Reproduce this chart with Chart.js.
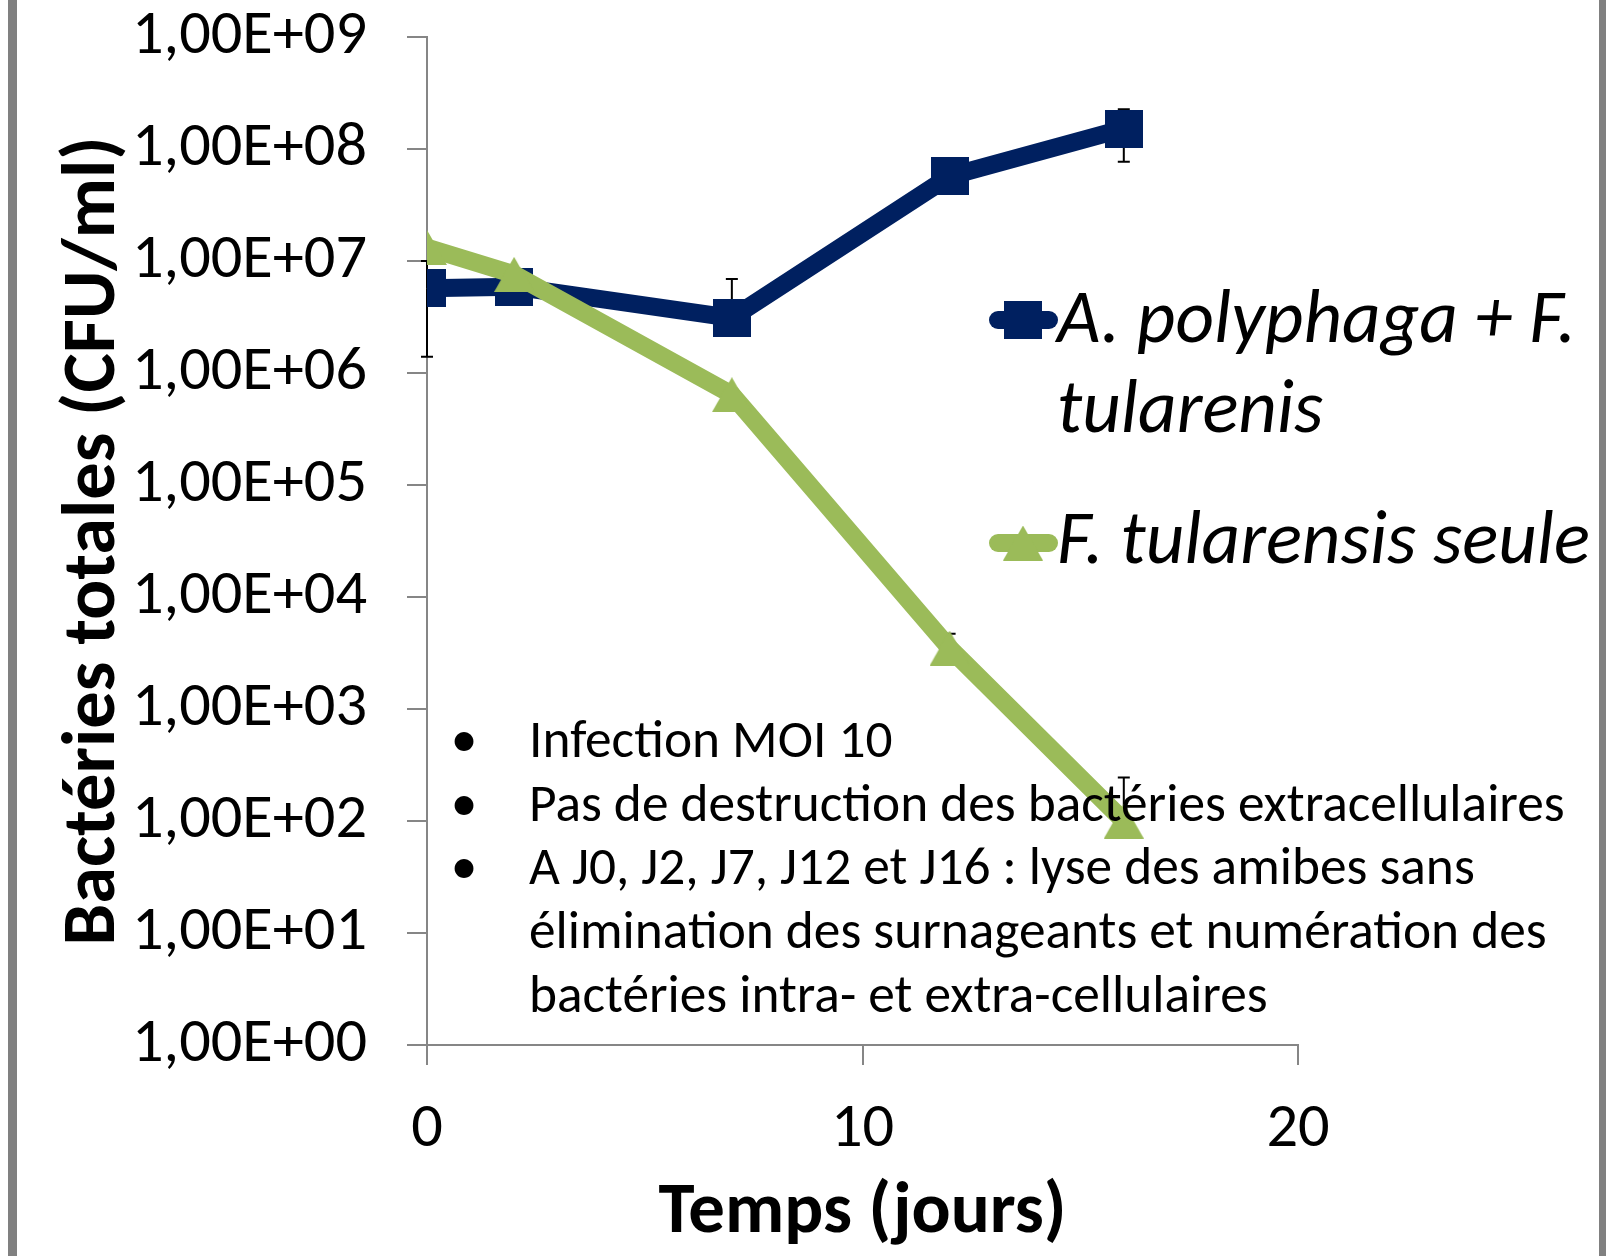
<!DOCTYPE html>
<html>
<head>
<meta charset="utf-8">
<script src="https://cdn.jsdelivr.net/npm/chart.js@4.4.1/dist/chart.umd.min.js"></script>
<style>
html,body{margin:0;padding:0;background:#fff;overflow:hidden}
#wrap{width:1606px;height:1256px;position:relative}
canvas{display:block}
</style>
</head>
<body>
<div id="wrap"><canvas id="c" width="1606" height="1256"></canvas></div>
<script>
// ---------- data ----------
const days = [0, 2, 7, 12, 16];
const seriesNames = ["A. polyphaga + F. tularenis", "F. tularensis seule"];
const legendLines = [["A. polyphaga + F.", "tularenis"], ["F. tularensis seule"]];
const amoebaCFU = [5.7e6, 5.9e6, 3.1e6, 5.7e7, 1.52e8];
const amoebaErrPlus = [4.3e6, 0, 3.8e6, 0, 7.5e7];
const amoebaErrMinus = [4.3e6, 0, 3.8e6, 0, 7.5e7];
const aloneCFU = [1.32e7, 7.6e6, 6.4e5, 3.5e3, 1.0e2];
const aloneErrPlus = [0, 0, 0, 1.2e3, 1.44e2];
const aloneErrMinus = [0, 0, 0, 1.0e3, 1.44e2];
const yTickValues = [1, 10, 100, 1e3, 1e4, 1e5, 1e6, 1e7, 1e8, 1e9];
const yTickLabels = ["1,00E+00", "1,00E+01", "1,00E+02", "1,00E+03", "1,00E+04",
                     "1,00E+05", "1,00E+06", "1,00E+07", "1,00E+08", "1,00E+09"];
const xTickValues = [0, 10, 20];
const xTickLabels = ["0", "10", "20"];
const xTitle = "Temps (jours)";
const yTitle = "Bactéries totales (CFU/ml)";
const notes = [
  {bullet: true,  text: "Infection MOI 10"},
  {bullet: true,  text: "Pas de destruction des bactéries extracellulaires"},
  {bullet: true,  text: "A J0, J2, J7, J12 et J16 : lyse des amibes sans"},
  {bullet: false, text: "élimination des surnageants et numération des"},
  {bullet: false, text: "bactéries intra- et extra-cellulaires"}
];

// ---------- style ----------
const FAMILY = 'Carlito, Lato, "Open Sans", sans-serif';
const NAVY = '#002060';
const GREEN = '#9BBB59';
const AXIS = '#868686';

const mctx = document.createElement('canvas').getContext('2d');
function fit(text, spec, target) {
  mctx.font = spec + ' 100px ' + FAMILY;
  return 100 * target / mctx.measureText(text).width;
}
const tickSize = fit('1,00E+09', 'normal 400', 235);
const xTitleSize = fit(xTitle, 'normal 700', 408);
const yTitleSize = fit(yTitle, 'normal 700', 809);
const legendSize = fit(legendLines[1][0], 'italic 400', 533);
const noteSize = fit(notes[1].text, 'normal 400', 1036);

function triangleImage(color, w, h) {
  const c = document.createElement('canvas');
  c.width = w; c.height = h;
  const g = c.getContext('2d');
  g.fillStyle = color;
  g.beginPath(); g.moveTo(w / 2, 0); g.lineTo(w, h); g.lineTo(0, h); g.closePath(); g.fill();
  return c;
}
function squareImage(color, s) {
  const c = document.createElement('canvas');
  c.width = s; c.height = s;
  const g = c.getContext('2d');
  g.fillStyle = color; g.fillRect(0, 0, s, s);
  return c;
}
const squareMark = squareImage(NAVY, 38);
const triMark = triangleImage(GREEN, 40, 35);

const bgPlugin = {
  id: 'bg',
  beforeDraw(chart) {
    const g = chart.ctx;
    g.save();
    g.fillStyle = '#fff'; g.fillRect(0, 0, chart.width, chart.height);
    g.fillStyle = '#808080';
    g.fillRect(8, 0, 9, chart.height);
    g.fillRect(1599, 0, 7, chart.height);
    g.restore();
  }
};

const errPlugin = {
  id: 'errbars',
  beforeDatasetsDraw(chart) {
    const g = chart.ctx, xs = chart.scales.x, ys = chart.scales.y;
    g.save();
    g.strokeStyle = '#000'; g.lineWidth = 2;
    chart.data.datasets.forEach(ds => {
      ds.data.forEach((p, i) => {
        const px = xs.getPixelForValue(p.x);
        const py = ys.getPixelForValue(p.y);
        const ends = [];
        if (ds.errPlus[i] > 0) ends.push(p.y + ds.errPlus[i]);
        if (ds.errMinus[i] > 0 && p.y - ds.errMinus[i] > 0) ends.push(p.y - ds.errMinus[i]);
        ends.forEach(v => {
          const ey = ys.getPixelForValue(v);
          g.beginPath(); g.moveTo(px, py); g.lineTo(px, ey);
          g.moveTo(px - 6, ey); g.lineTo(px + 6, ey); g.stroke();
        });
      });
    });
    g.restore();
  }
};

const overlayPlugin = {
  id: 'overlay',
  afterDraw(chart) {
    const g = chart.ctx;
    g.save();
    // legend
    const entries = [
      {color: NAVY, mark: squareMark, lines: legendLines[0], cy: 320, base: 342},
      {color: GREEN, mark: triMark, lines: legendLines[1], cy: 543, base: 563}
    ];
    entries.forEach(e => {
      g.strokeStyle = e.color; g.lineWidth = 18; g.lineCap = 'round';
      g.beginPath(); g.moveTo(998, e.cy); g.lineTo(1049, e.cy); g.stroke();
      g.drawImage(e.mark, 1023 - e.mark.width / 2, e.cy - e.mark.height / 2);
      g.fillStyle = '#000';
      g.font = 'italic 400 ' + legendSize + 'px ' + FAMILY;
      g.textAlign = 'left'; g.textBaseline = 'alphabetic';
      e.lines.forEach((t, k) => g.fillText(t, 1057, e.base + k * 90));
    });
    // notes
    g.font = 'normal 400 ' + noteSize + 'px ' + FAMILY;
    g.fillStyle = '#000';
    notes.forEach((n, k) => {
      const by = 757 + k * 63.7;
      if (n.bullet) { g.textAlign = 'center'; g.fillText('•', 464, by); }
      g.textAlign = 'left';
      g.fillText(n.text, 529, by);
    });
    g.restore();
  }
};

new Chart(document.getElementById('c'), {
  type: 'line',
  data: {
    datasets: [
      {
        label: seriesNames[0],
        data: days.map((d, i) => ({x: d, y: amoebaCFU[i]})),
        errPlus: amoebaErrPlus, errMinus: amoebaErrMinus,
        borderColor: NAVY, backgroundColor: NAVY, borderWidth: 18,
        pointStyle: squareMark, pointRadius: 19, order: 1,
        tension: 0, fill: false
      },
      {
        label: seriesNames[1],
        data: days.map((d, i) => ({x: d, y: aloneCFU[i]})),
        errPlus: aloneErrPlus, errMinus: aloneErrMinus,
        borderColor: GREEN, backgroundColor: GREEN, borderWidth: 18,
        pointStyle: triMark, pointRadius: 19, order: 0,
        tension: 0, fill: false
      }
    ]
  },
  options: {
    responsive: false,
    animation: false,
    devicePixelRatio: 1,
    layout: {padding: {left: 0, right: 308, top: 35, bottom: 0}},
    plugins: {legend: {display: false}, tooltip: {enabled: false}},
    scales: {
      x: {
        type: 'linear', min: 0, max: 20,
        afterBuildTicks(s) { s.ticks = xTickValues.map(v => ({value: v})); },
        afterFit(s) { s.height = 211; },
        ticks: {
          callback: (v) => xTickLabels[xTickValues.indexOf(v)],
          color: '#000', padding: 28, maxRotation: 0,
          font: {family: FAMILY, size: tickSize, lineHeight: 1.2}
        },
        grid: {drawOnChartArea: false, drawTicks: true, tickLength: 20, color: AXIS, lineWidth: 2},
        border: {display: true, color: AXIS, width: 2},
        title: {display: true, text: xTitle, color: '#000',
                font: {family: FAMILY, size: xTitleSize, weight: 'bold', lineHeight: 1},
                padding: {top: 0, bottom: 6}}
      },
      y: {
        type: 'logarithmic', min: 1, max: 1e9,
        afterBuildTicks(s) { s.ticks = yTickValues.map(v => ({value: v})); },
        afterFit(s) { s.width = 427; s.paddingTop = 0; s.paddingBottom = 0; },
        ticks: {
          callback: (v) => yTickLabels[yTickValues.indexOf(v)],
          autoSkip: false, color: '#000', padding: 40,
          font: {family: FAMILY, size: tickSize, lineHeight: 1}
        },
        grid: {drawOnChartArea: false, drawTicks: true, tickLength: 20, color: AXIS, lineWidth: 2},
        border: {display: true, color: AXIS, width: 2},
        title: {display: true, text: yTitle, color: '#000',
                font: {family: FAMILY, size: yTitleSize, weight: 'bold', lineHeight: 1},
                padding: {top: 58, bottom: 0}}
      }
    }
  },
  plugins: [bgPlugin, errPlugin, overlayPlugin]
});
</script>
</body>
</html>
